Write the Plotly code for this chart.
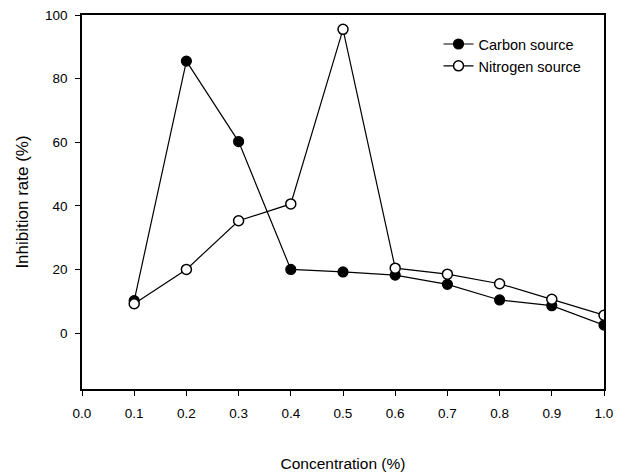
import plotly.graph_objects as go

concentration = [0.1, 0.2, 0.3, 0.4, 0.5, 0.6, 0.7, 0.8, 0.9, 1.0]
carbon = [10.2, 85.5, 60.2, 20.0, 19.2, 18.2, 15.3, 10.4, 8.6, 2.5]
nitrogen = [9.2, 20.0, 35.3, 40.6, 95.5, 20.4, 18.5, 15.5, 10.6, 5.6]
x_ticks = [0.0, 0.1, 0.2, 0.3, 0.4, 0.5, 0.6, 0.7, 0.8, 0.9, 1.0]
y_ticks = [0, 20, 40, 60, 80, 100]

font = "Liberation Sans, Arial, sans-serif"

fig = go.Figure()
fig.add_trace(go.Scatter(
    x=concentration, y=carbon, name="Carbon source", mode="lines+markers",
    line=dict(color="black", width=1.2),
    marker=dict(symbol="circle", size=10, color="black", line=dict(color="black", width=1.2)),
))
fig.add_trace(go.Scatter(
    x=concentration, y=nitrogen, name="Nitrogen source", mode="lines+markers",
    line=dict(color="black", width=1.2),
    marker=dict(symbol="circle", size=10, color="white", line=dict(color="black", width=1.5)),
))

fig.update_layout(
    width=625, height=472,
    margin=dict(l=82, r=21, t=15, b=83),
    paper_bgcolor="white", plot_bgcolor="white",
    font=dict(family=font, size=13.5, color="black"),
    showlegend=True,
    legend=dict(x=0.683, y=0.965, xanchor="left", yanchor="top",
                bgcolor="rgba(0,0,0,0)", font=dict(size=14.5, family=font),
                itemwidth=30, tracegroupgap=0),
    xaxis=dict(
        range=[0, 1.0], tickvals=x_ticks, ticktext=[f"{v:.1f}" for v in x_ticks],
        showgrid=False, zeroline=False, showline=True, linecolor="black", linewidth=1.5,
        mirror=True, ticks="outside", ticklen=5, tickwidth=1, tickcolor="black",
        ticklabelstandoff=6, automargin=False,
        title=dict(text="Concentration (%)", font=dict(size=15.5, family=font), standoff=46),
    ),
    yaxis=dict(
        range=[-17.6, 100], tickvals=y_ticks,
        showgrid=False, zeroline=False, showline=True, linecolor="black", linewidth=1.5,
        mirror=True, ticks="outside", ticklen=5, tickwidth=1, tickcolor="black",
        ticklabelstandoff=5, automargin=False,
        title=dict(text="Inhibition rate (%)", font=dict(size=17, family=font), standoff=12),
    ),
)

fig.write_html("out.html")
